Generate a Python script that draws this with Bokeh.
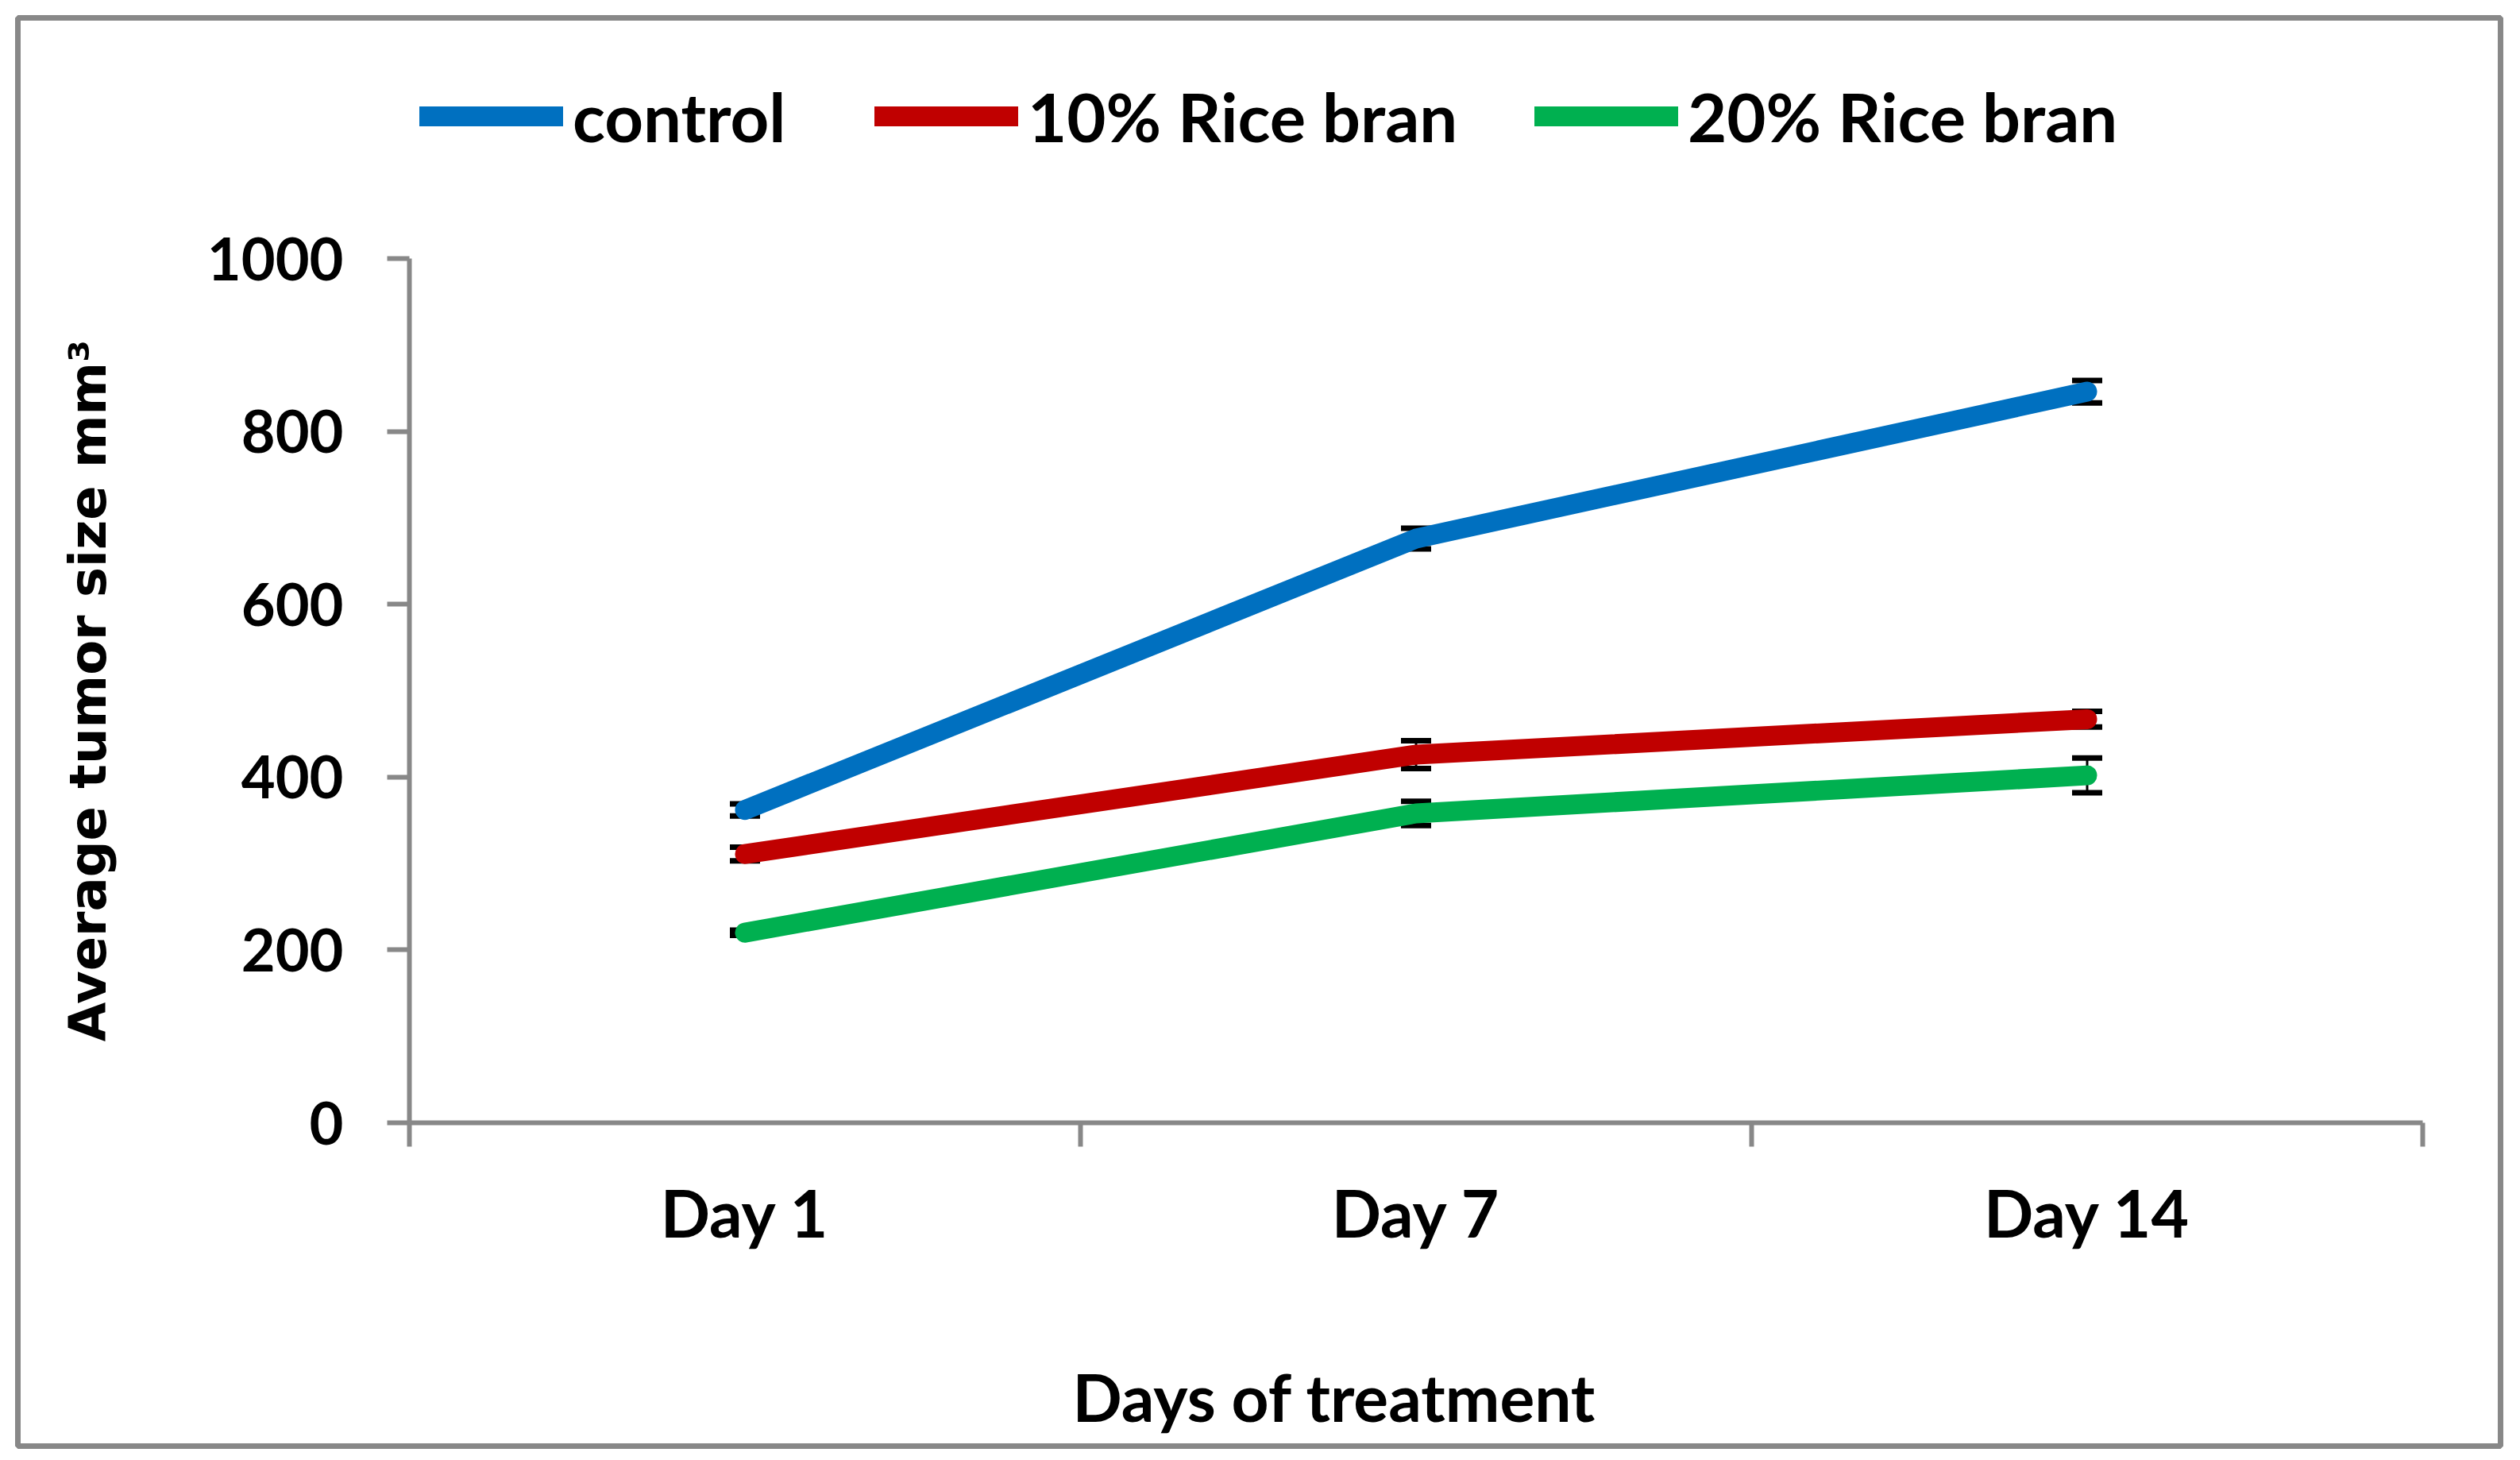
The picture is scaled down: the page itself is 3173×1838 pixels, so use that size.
from bokeh.plotting import figure
from bokeh.models import (Range1d, LinearAxis, FixedTicker, Whisker, TeeHead,
                          ColumnDataSource, Legend, LegendItem, Label)
from bokeh.embed import file_html
from bokeh.resources import INLINE

# ---------------- data ----------------
categories = ["Day 1", "Day 7", "Day 14"]
y_ticks = [0, 200, 400, 600, 800, 1000]
series_names = ["control", "10% Rice bran", "20% Rice bran"]
control = [362, 676, 846]
rice_bran_10 = [311, 426, 467]
rice_bran_20 = [220, 358, 402]
control_err = [7, 12, 13]
rice_bran_10_err = [8, 16, 9]
rice_bran_20_err = [3, 14, 20]
colors = ["#0070C0", "#C00000", "#00B050"]
x_title = "Days of treatment"
y_title = "Average tumor size mm\u00b3"

# ---------------- layout (pixels) ----------------
GRAY = "#888888"
FONT = "Lato"
W, H = 3170, 1838
FL, FR, FT, FB = 22, 3148, 22, 1820          # outer chart box (= plot frame)
AX_L, AX_R, AX_T, AX_B = 515, 3050, 325, 1413  # axes box
YMIN, YMAX = 0, 1000

n = len(categories)
ppx = (AX_R - AX_L) / n
ppy = (AX_B - AX_T) / (YMAX - YMIN)
x_range = Range1d(-(AX_L - FL) / ppx, n + (FR - AX_R) / ppx)
y_range = Range1d(YMIN - (FB - AX_B) / ppy, YMAX + (AX_T - FT) / ppy)

p = figure(width=W, height=H, x_range=x_range, y_range=y_range,
           x_axis_type=None, y_axis_type=None,
           output_backend="svg", toolbar_location=None,
           min_border_left=FL, min_border_right=W - FR,
           min_border_top=FT, min_border_bottom=H - FB)
p.outline_line_color = GRAY
p.outline_line_width = 7
p.background_fill_color = "white"
p.border_fill_color = "white"

centres = [i + 0.5 for i in range(n)]
bounds = [float(i) for i in range(n + 1)]

# y axis at the left edge of the category area
yaxis = LinearAxis(fixed_location=0, bounds=(YMIN, YMAX),
                   ticker=FixedTicker(ticks=y_ticks, minor_ticks=[]),
                   axis_line_color=GRAY, axis_line_width=6,
                   major_tick_line_color=GRAY, major_tick_line_width=6,
                   major_tick_out=28, major_tick_in=0,
                   minor_tick_line_color=None,
                   major_label_text_font=FONT, major_label_text_font_size="74px",
                   major_label_text_font_style="bold", major_label_text_color="black",
                   major_label_standoff=55,
                   axis_label=y_title, axis_label_text_font="DejaVu Sans",
                   axis_label_text_font_size="64px", axis_label_text_font_style="bold",
                   axis_label_text_color="black", axis_label_standoff=110)
p.add_layout(yaxis, "left")

# x axis at y = 0: labels at category centres, ticks on category boundaries
xaxis = LinearAxis(fixed_location=0, bounds=(0, n),
                   ticker=FixedTicker(ticks=centres, minor_ticks=bounds),
                   major_label_overrides={c: lab for c, lab in zip(centres, categories)},
                   axis_line_color=GRAY, axis_line_width=6,
                   major_tick_line_color=None, major_tick_out=0, major_tick_in=0,
                   minor_tick_line_color=GRAY, minor_tick_line_width=6,
                   minor_tick_out=30, minor_tick_in=0,
                   major_label_text_font=FONT, major_label_text_font_size="82px",
                   major_label_text_font_style="bold", major_label_text_color="black",
                   major_label_standoff=33)
p.add_layout(xaxis, "below")

# x-axis title (left of centre, as in the original)
p.add_layout(Label(x=1350 - FL, y=63, x_units="screen", y_units="screen",
                   text=x_title, text_font=FONT, text_font_size="82px",
                   text_font_style="bold", text_color="black",
                   text_align="left", text_baseline="alphabetic"))

# error bars (drawn under the lines)
all_vals = [control, rice_bran_10, rice_bran_20]
all_errs = [control_err, rice_bran_10_err, rice_bran_20_err]
for vals, errs in zip(all_vals, all_errs):
    src = ColumnDataSource(dict(x=centres,
                                upper=[v + e for v, e in zip(vals, errs)],
                                lower=[v - e for v, e in zip(vals, errs)]))
    w = Whisker(base="x", upper="upper", lower="lower", source=src,
                line_color="black", line_width=3, level="underlay",
                upper_head=TeeHead(size=38, line_width=7, line_color="black"),
                lower_head=TeeHead(size=38, line_width=7, line_color="black"))
    p.add_layout(w)

renderers = []
for vals, col in zip(all_vals, colors):
    r = p.line(x=centres, y=vals, line_color=col, line_width=25,
               line_cap="round", line_join="round")
    renderers.append(r)

# legends (one per entry, placed like the original)
leg_x = [528 - FL, 1101 - FL, 1932 - FL]
leg_bottom = 197
for name, r, lx in zip(series_names, renderers, leg_x):
    lg = Legend(items=[LegendItem(label=name, renderers=[r])],
                location=(lx, FB - leg_bottom), orientation="horizontal",
                glyph_width=181, glyph_height=40, label_standoff=12,
                label_height=40, padding=0, margin=0, spacing=0,
                border_line_color=None, background_fill_alpha=0,
                label_text_font=FONT, label_text_font_size="85px",
                label_text_font_style="bold", label_text_color="black")
    p.add_layout(lg, "center")

open("out.html", "w").write(file_html(p, INLINE))
